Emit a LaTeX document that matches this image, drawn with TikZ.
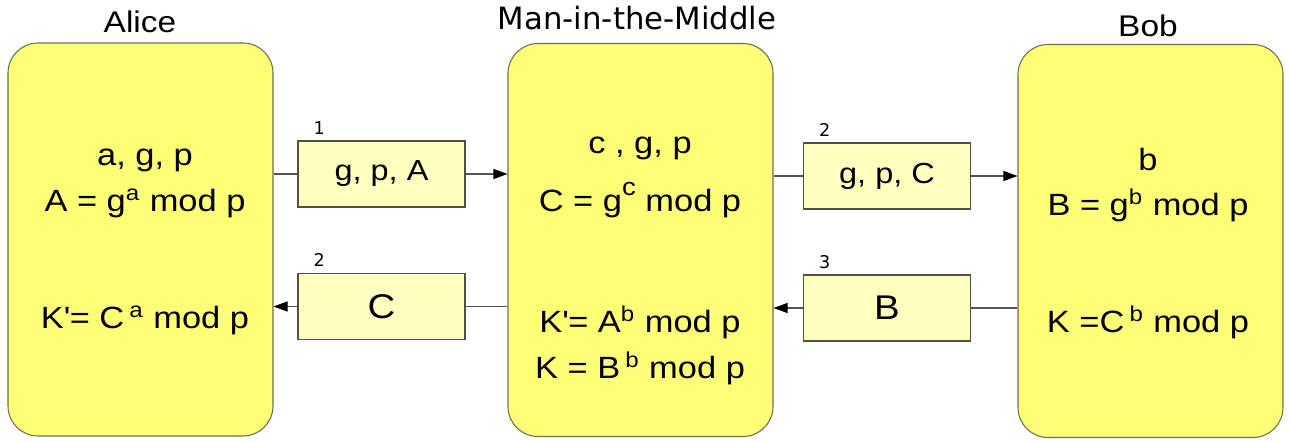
\documentclass[tikz,border=0pt]{standalone}
\usepackage{fontspec}
\setmainfont{Liberation Sans}[FakeStretch=1.12]
\newfontfamily\djv{DejaVu Sans}
\usepackage{tikz}
\usetikzlibrary{positioning, arrows.meta}
\definecolor{partyyellow}{RGB}{255,255,119}
\definecolor{msgyellow}{RGB}{255,255,190}
\definecolor{partyedge}{RGB}{110,110,80}
\definecolor{msgedge}{RGB}{80,80,70}
\definecolor{wire}{RGB}{85,85,85}

\begin{document}
\begin{tikzpicture}[>={Triangle[length=2.8mm,width=2mm,color=black]}, font=\fontsize{17.5}{21}\selectfont,
    partybox/.style={draw=partyedge, line width=0.6pt, fill=partyyellow, rounded corners=0.6cm, minimum width=5.3cm, minimum height=7.86cm},
    msgbox/.style={draw=msgedge, line width=0.6pt, fill=msgyellow, minimum width=3.34cm, minimum height=1.32cm, font=\fontsize{16.5}{19}\selectfont},
    bigmsg/.style={font=\fontsize{19.5}{22}\selectfont},
    title/.style={font=\fontsize{17}{20}\selectfont},
    stepnum/.style={font=\djv\fontsize{10}{12}\selectfont, anchor=south west, xshift=0.2cm},
    link/.style={draw=wire, line width=0.6pt}]
    \useasboundingbox (0,0) rectangle (25.8,8.82);

    % the three parties
    \node[partybox] (A) at (2.81,4.03) {};
    \node[partybox] (M) at (12.81,4.02) {};
    \node[partybox] (B) at (23.01,4.0) {};
    \node[title] (tA) at (2.8,8.38) {Alice};
    \node[title, font=\djv\fontsize{17.5}{20}\selectfont] (tM) at (12.74,8.46) {Man-in-the-Middle};
    \node[title] (tB) at (22.96,8.3) {Bob};

    % what each of them knows
    \node (a1) at (2.9,5.62) {a, g, p};
    \node (a2) at (2.9,4.76) {A = g\textsuperscript{a} mod p};
    \node (a3) at (2.9,2.42) {K\textquotesingle= C\,\textsuperscript{a} mod p};
    \node (c1) at (12.8,5.86) {c , g, p};
    \node (c2) at (12.8,4.82) {C = g\raisebox{1.0ex}{\fontsize{14}{16}\selectfont c} mod p};
    \node (c3) at (12.8,2.38) {K\textquotesingle= A\textsuperscript{b} mod p};
    \node (c4) at (12.8,1.46) {K = B\,\textsuperscript{b} mod p};
    \node (b1) at (22.96,5.62) {b};
    \node (b2) at (22.96,4.72) {B = g\textsuperscript{b} mod p};
    \node (b3) at (22.96,2.38) {K =C\,\textsuperscript{b} mod p};

    % messages
    \node[msgbox, label={[stepnum]north west:1}] (m1) at (7.63,5.34) {g, p, A};
    \node[msgbox, bigmsg, label={[stepnum]north west:2}] (m2) at (7.63,2.69) {C};
    \node[msgbox, label={[stepnum]north west:2}] (m3) at (17.74,5.30) {g, p, C};
    \node[msgbox, bigmsg, label={[stepnum]north west:3}] (m4) at (17.74,2.66) {B};

    \draw[link] (A.east |- m1) -- (m1);
    \draw[link, ->] (m1) -- (M.west |- m1);
    \draw[link] (M.west |- m2) -- (m2);
    \draw[link, ->] (m2) -- (A.east |- m2);
    \draw[link] (M.east |- m3) -- (m3);
    \draw[link, ->] (m3) -- (B.west |- m3);
    \draw[link] (B.west |- m4) -- (m4);
    \draw[link, ->] (m4) -- (M.east |- m4);
\end{tikzpicture}
\end{document}
